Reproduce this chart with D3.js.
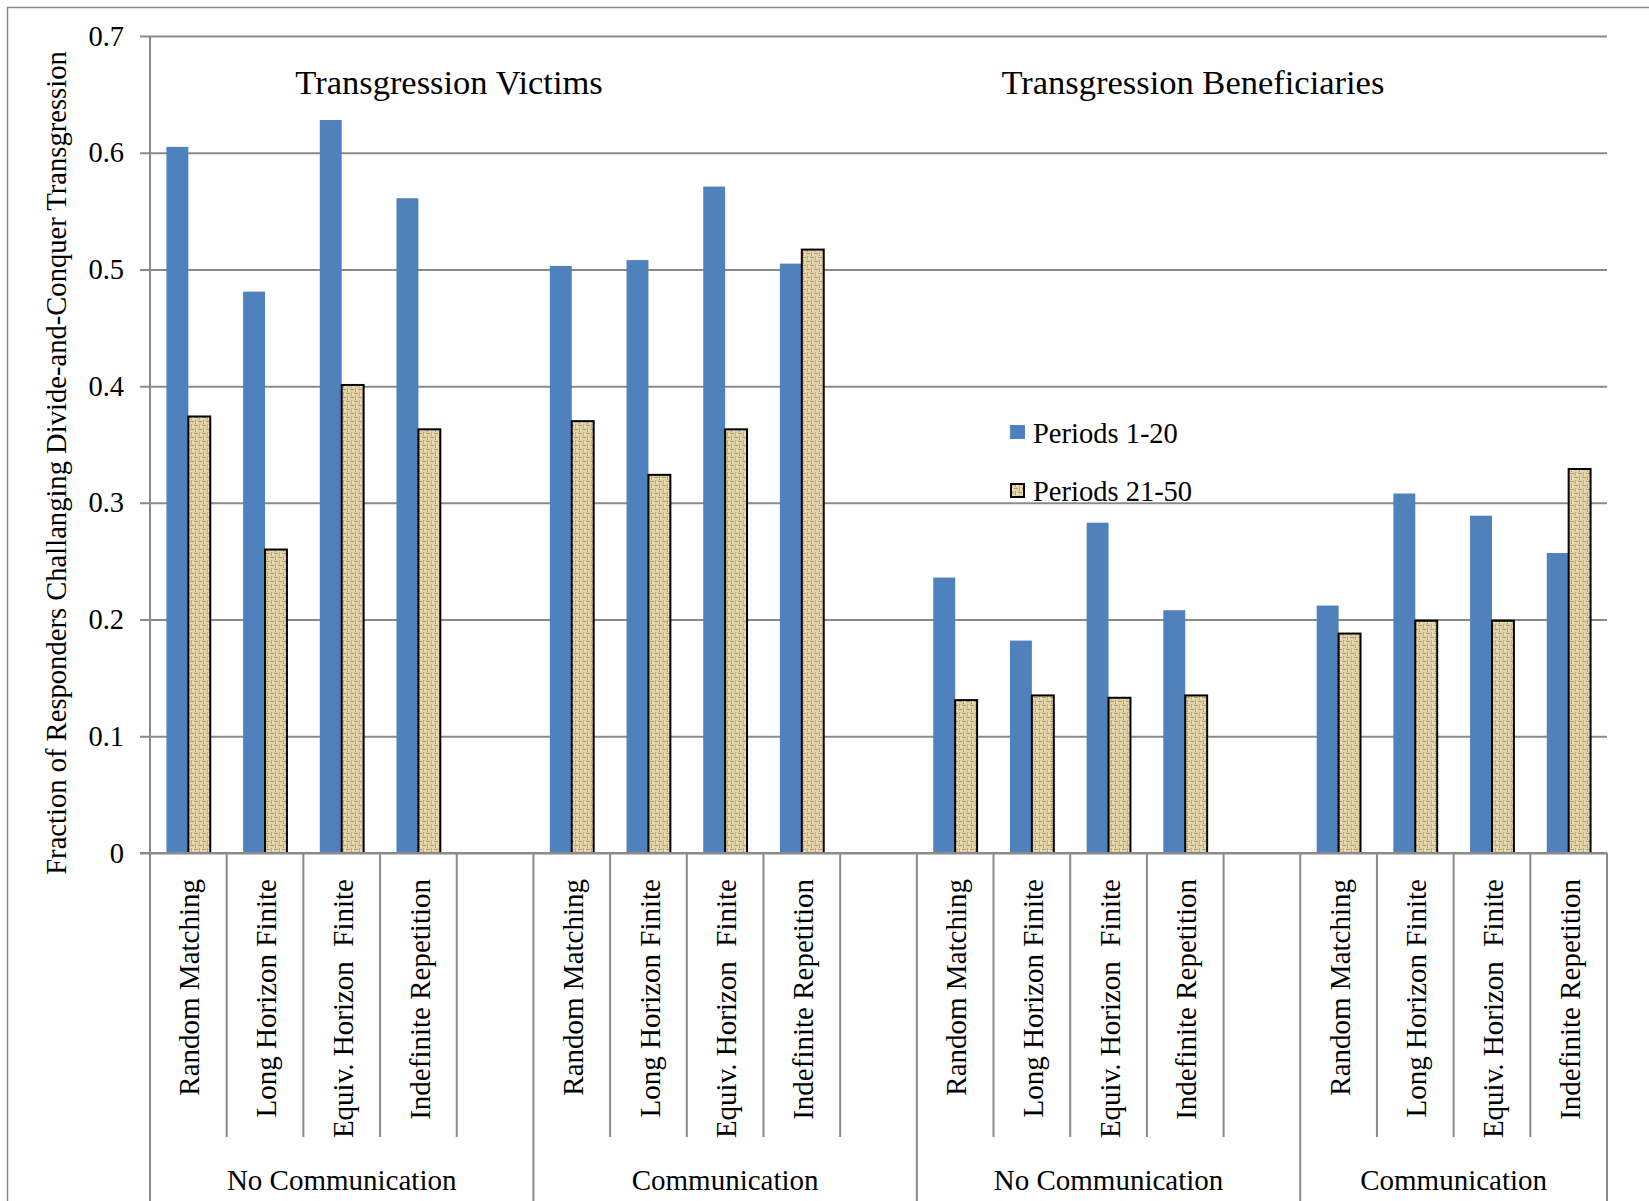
<!DOCTYPE html>
<html>
<head>
<meta charset="utf-8">
<script src="https://cdn.jsdelivr.net/npm/d3@7"></script>
<style>
  body { margin: 0; background: #fff; }
  text { font-family: "Liberation Serif", "Times New Roman", serif; fill: #000; }
</style>
</head>
<body>
<svg id="chart"></svg>
<script>
// categories (19 slots: 4 groups, blank slot between groups)
const categories = [
    'Random Matching', 'Long Horizon Finite', 'Equiv. Horizon  Finite', 'Indefinite Repetition', '',
    'Random Matching', 'Long Horizon Finite', 'Equiv. Horizon  Finite', 'Indefinite Repetition', '',
    'Random Matching', 'Long Horizon Finite', 'Equiv. Horizon  Finite', 'Indefinite Repetition', '',
    'Random Matching', 'Long Horizon Finite', 'Equiv. Horizon  Finite', 'Indefinite Repetition'
];
const groups = ['No Communication', 'Communication', 'No Communication', 'Communication'];
const groupSizes = [5, 5, 5, 4];
const panelTitles = ['Transgression Victims', 'Transgression Beneficiaries'];
const seriesNames = ['Periods 1-20', 'Periods 21-50'];

// values (null = blank slot)
const periods1to20 = [
    0.605, 0.481, 0.628, 0.561, null,
    0.503, 0.508, 0.571, 0.505, null,
    0.236, 0.182, 0.283, 0.208, null,
    0.212, 0.308, 0.289, 0.257
];
const periods21to50 = [
    0.374, 0.260, 0.401, 0.363, null,
    0.370, 0.324, 0.363, 0.517, null,
    0.131, 0.135, 0.133, 0.135, null,
    0.188, 0.199, 0.199, 0.329
];
const yTicks = [0, 0.1, 0.2, 0.3, 0.4, 0.5, 0.6, 0.7];

const W = 1649, H = 1201;
const margin = {top: 36, right: 42, bottom: 348, left: 150};
const innerW = W - margin.left - margin.right;
const innerH = H - margin.top - margin.bottom;

const svg = d3.select('#chart').attr('width', W).attr('height', H);

// woven texture for the second series
const defs = svg.append('defs');
const pat = defs.append('pattern')
    .attr('id', 'weave')
    .attr('patternUnits', 'userSpaceOnUse')
    .attr('width', 8).attr('height', 8);
pat.append('rect').attr('width', 8).attr('height', 8).attr('fill', '#e2d2a8');
pat.append('rect').attr('x', 0).attr('y', 1).attr('width', 4).attr('height', 1).attr('fill', '#b49c70');
pat.append('rect').attr('x', 5).attr('y', 0).attr('width', 1).attr('height', 4).attr('fill', '#b9a276');
pat.append('rect').attr('x', 4).attr('y', 5).attr('width', 4).attr('height', 1).attr('fill', '#b49c70');
pat.append('rect').attr('x', 1).attr('y', 4).attr('width', 1).attr('height', 4).attr('fill', '#bfa87c');
pat.append('rect').attr('x', 2).attr('y', 6).attr('width', 2).attr('height', 1).attr('fill', '#f1e8cf');
pat.append('rect').attr('x', 6).attr('y', 2).attr('width', 2).attr('height', 1).attr('fill', '#f1e8cf');

// outer frame
svg.append('rect')
    .attr('x', 7.5).attr('y', 7.5)
    .attr('width', W + 20).attr('height', H + 20)
    .attr('fill', 'none')
    .attr('stroke', '#8a8a8a')
    .attr('stroke-width', 1.5);

const chart = svg.append('g')
    .attr('transform', `translate(${margin.left}, ${margin.top})`);

const slotIdx = d3.range(categories.length);
const xscale = d3.scaleBand()
    .domain(slotIdx)
    .range([0, innerW])
    .paddingInner(0)
    .paddingOuter(0);
const bw = xscale.bandwidth();
const barW = bw / 3.5;

const yscale = d3.scaleLinear()
    .domain([0, 0.7])
    .range([innerH, 0]);

// gridlines + y ticks
const yaxis = d3.axisLeft(yscale)
    .tickValues(yTicks)
    .tickSize(-innerW - 10)
    .tickFormat(d => d === 0 ? '0' : d3.format('.1f')(d))
    .tickPadding(16);
const yg = chart.append('g')
    .attr('transform', 'translate(-10, 0)')
    .call(yaxis);
yg.select('.domain').remove();
yg.selectAll('.tick line').attr('stroke', '#8a8a8a').attr('stroke-width', 2);
yg.selectAll('.tick text')
    .style('font-family', '"Liberation Serif", "Times New Roman", serif')
    .style('font-size', '28.5px')
    .attr('x', -16);

// y axis line, extends to bottom of picture
chart.append('line')
    .attr('x1', 0).attr('x2', 0)
    .attr('y1', 0).attr('y2', H)
    .attr('stroke', '#8a8a8a').attr('stroke-width', 2);

// bars
const series = [
    {vals: periods1to20, fill: '#4f81bd', stroke: 'none', off: 0},
    {vals: periods21to50, fill: 'url(#weave)', stroke: '#000', off: 1}
];
series.forEach(s => {
    chart.append('g').selectAll('rect')
        .data(slotIdx.filter(i => s.vals[i] !== null))
        .enter()
        .append('rect')
        .attr('x', i => xscale(i) + barW * 0.75 + s.off * barW)
        .attr('y', i => yscale(s.vals[i]))
        .attr('width', barW)
        .attr('height', i => innerH - yscale(s.vals[i]))
        .attr('fill', s.fill)
        .attr('stroke', s.stroke)
        .attr('stroke-width', 2);
});

// baseline
chart.append('line')
    .attr('x1', -10).attr('x2', innerW)
    .attr('y1', innerH).attr('y2', innerH)
    .attr('stroke', '#8a8a8a').attr('stroke-width', 2);

// category separators and group separators
let start = 0;
const groupStarts = [];
groupSizes.forEach(n => { groupStarts.push(start); start += n; });

slotIdx.forEach(i => {
    if (groupStarts.includes(i)) return;
    chart.append('line')
        .attr('x1', xscale(i)).attr('x2', xscale(i))
        .attr('y1', innerH).attr('y2', innerH + 284)
        .attr('stroke', '#8a8a8a').attr('stroke-width', 2);
});
groupStarts.concat([categories.length]).forEach(i => {
    const x = i === categories.length ? innerW : xscale(i);
    chart.append('line')
        .attr('x1', x).attr('x2', x)
        .attr('y1', innerH).attr('y2', H)
        .attr('stroke', '#8a8a8a').attr('stroke-width', 2);
});

// category labels
chart.append('g').selectAll('text')
    .data(slotIdx.filter(i => categories[i] !== ''))
    .enter()
    .append('text')
    .attr('transform', i => `translate(${xscale(i) + bw / 2 + 1}, ${innerH + 26}) rotate(-90)`)
    .attr('text-anchor', 'end')
    .attr('dy', '0.35em')
    .style('font-size', '29px')
    .style('white-space', 'pre')
    .text(i => categories[i]);

// group labels
groups.forEach((g, k) => {
    const a = xscale(groupStarts[k]);
    const end = k === groups.length - 1 ? innerW : a + groupSizes[k] * bw;
    chart.append('text')
        .attr('x', (a + end) / 2)
        .attr('y', innerH + 337)
        .attr('text-anchor', 'middle')
        .style('font-size', '29px')
        .text(g);
});

// panel titles, centred over a position given in slot units
const titleSlots = [3.9, 13.6];
panelTitles.forEach((t, k) => {
    chart.append('text')
        .attr('x', titleSlots[k] * bw)
        .attr('y', 58)
        .attr('text-anchor', 'middle')
        .style('font-size', '34.5px')
        .text(t);
});

// legend
const legend = svg.append('g').attr('transform', 'translate(1010, 425)');
seriesNames.forEach((n, k) => {
    const row = legend.append('g').attr('transform', `translate(0, ${k * 58})`);
    row.append('rect')
        .attr('x', k ? 1 : 0).attr('y', k ? 1 : 0)
        .attr('width', k ? 13 : 15).attr('height', k ? 13 : 14)
        .attr('fill', series[k].fill)
        .attr('stroke', series[k].stroke)
        .attr('stroke-width', 2);
    row.append('text')
        .attr('x', 23).attr('y', 18)
        .style('font-size', '28.5px')
        .text(n);
});

// y axis label
svg.append('text')
    .attr('transform', `translate(66, 463) rotate(-90)`)
    .attr('text-anchor', 'middle')
    .style('font-size', '28.6px')
    .text('Fraction of Responders Challanging Divide-and-Conquer Transgression');
</script>
</body>
</html>
